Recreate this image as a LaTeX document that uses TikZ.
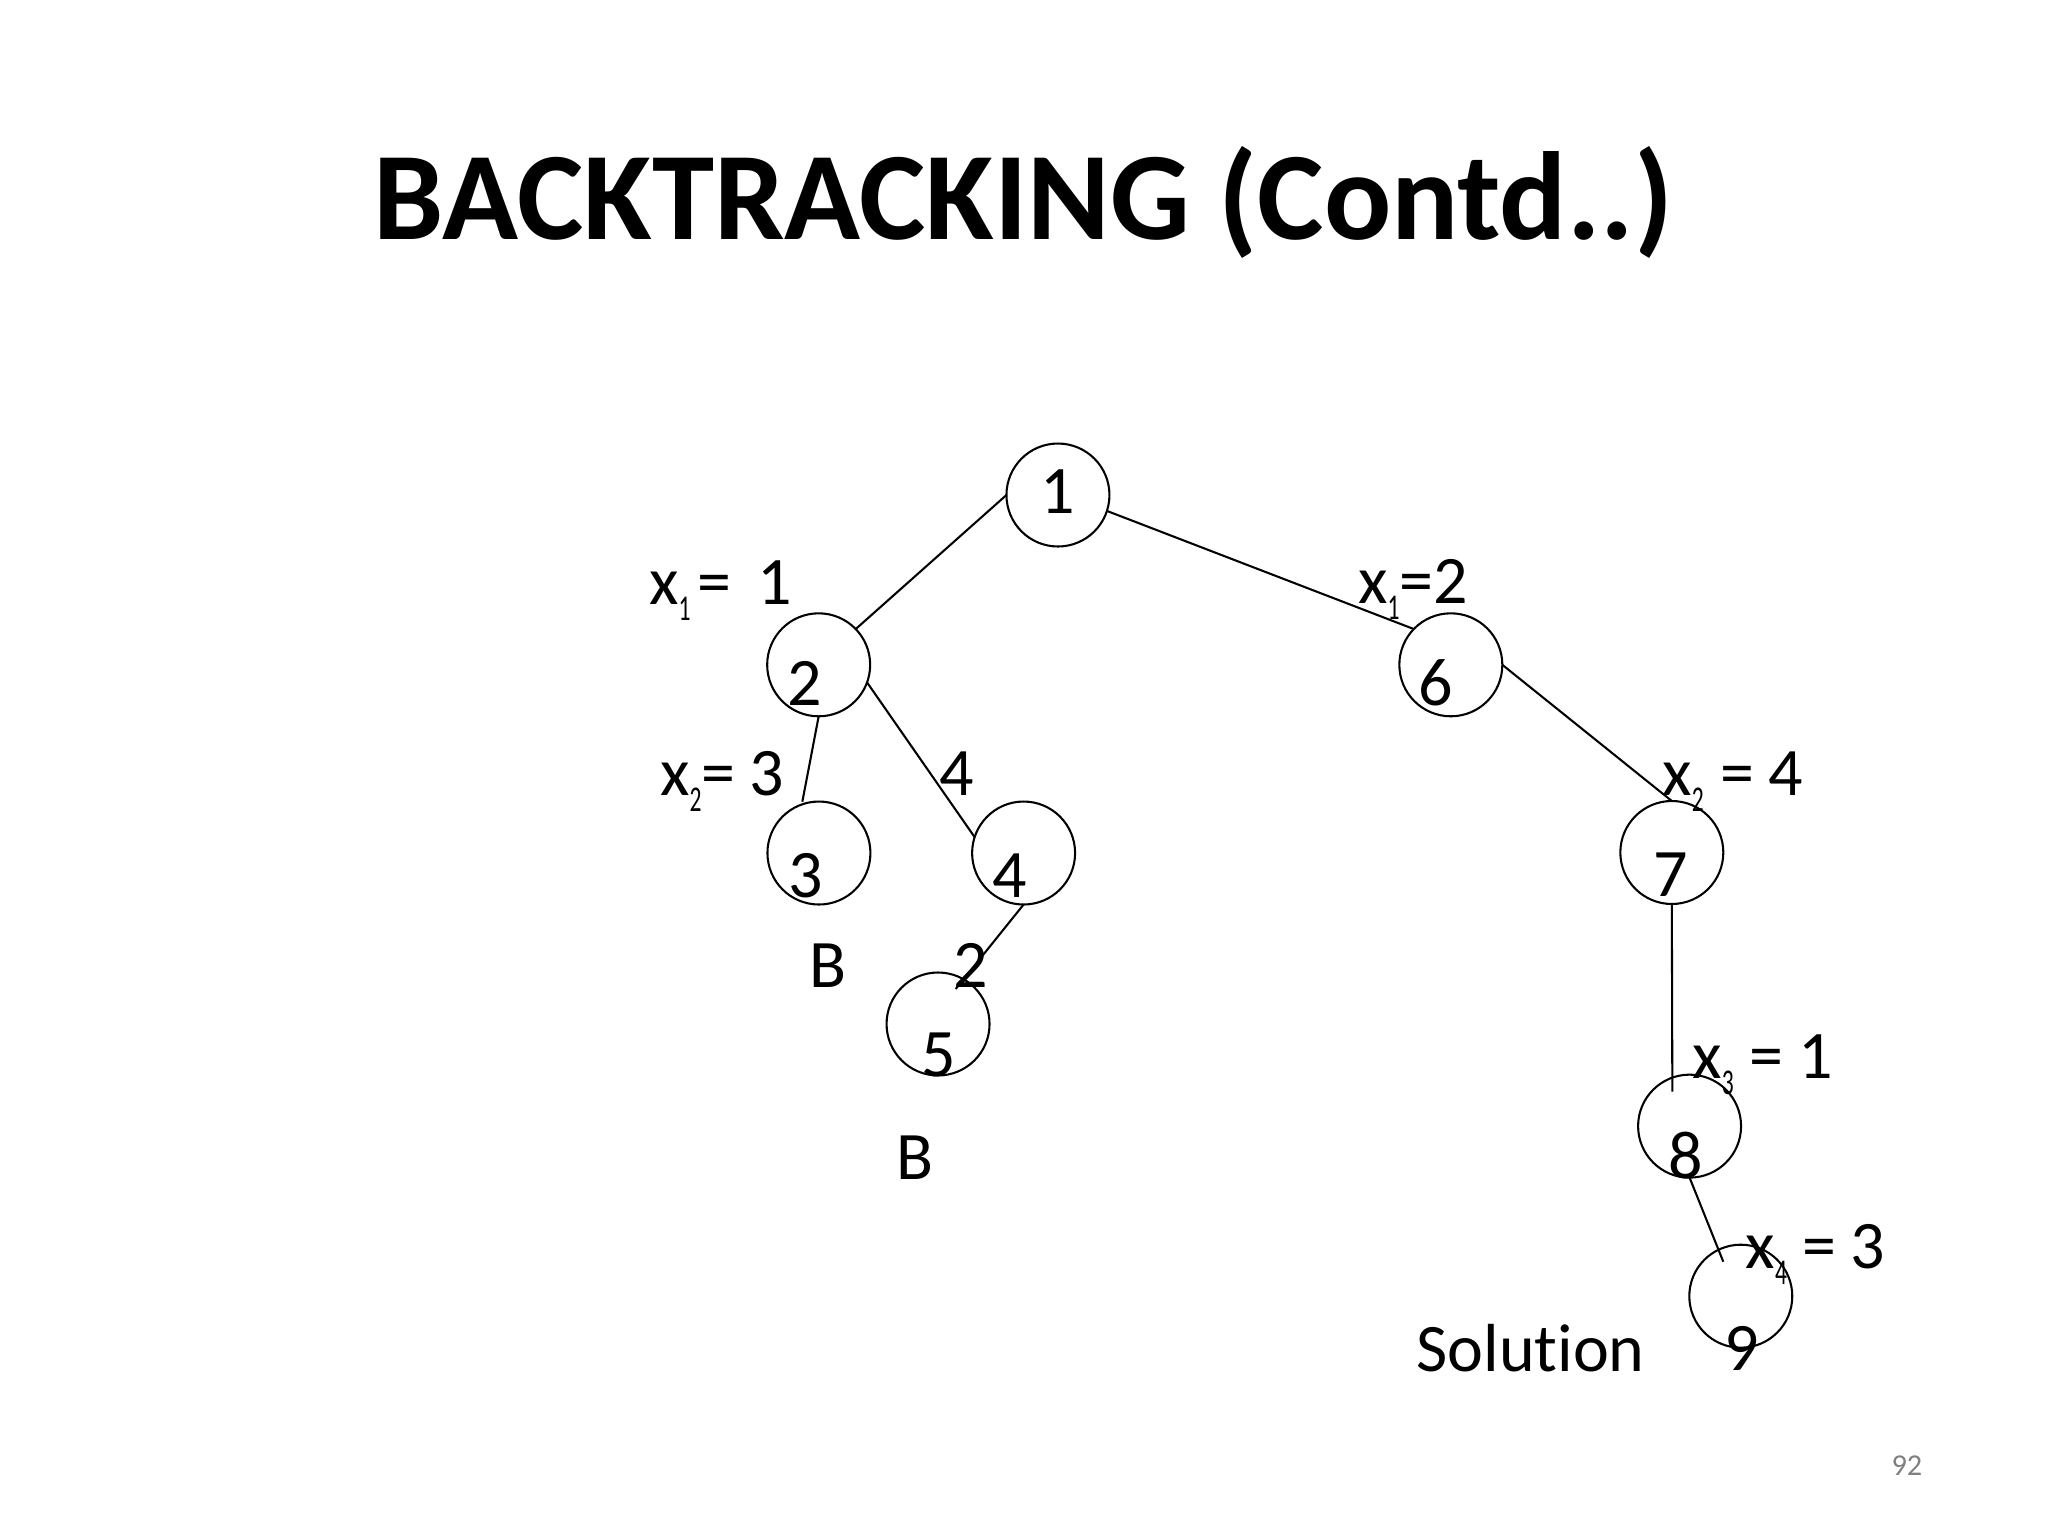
\documentclass[tikz,border=0pt]{standalone}
\usepackage{fontspec}
\setmainfont{Carlito}[Ligatures=NoCommon]
\usepackage{graphicx}
\newcommand{\sx}[1]{\raisebox{-0.125cm}{\scalebox{0.65}[1]{\fontsize{7.9pt}{8pt}\selectfont #1}}}
\begin{document}
\begin{tikzpicture}[x=0.01cm,y=-0.01cm,
  st/.style={circle,draw,line width=0.45pt,minimum size=0.788cm,inner sep=0pt,outer sep=0pt},
  lbl/.style={inner sep=0pt,outer sep=0pt,font=\fontsize{14.8pt}{16pt}\selectfont},
  conn/.style={line width=0.45pt}]
\useasboundingbox (0,0) rectangle (1568,1176);
\node[anchor=base,inner sep=0pt,font=\fontsize{27.3pt}{30pt}\selectfont\bfseries] (title) at (783.5,183) {BACKTRACKING (Contd..)};
% state circles
\node[st] (n1) at (810,379) {};
\node[st] (n2) at (626.8,509) {};
\node[st] (n6) at (1110.8,509) {};
\node[st] (n3) at (627,653.1) {};
\node[st] (n4) at (783.7,653.1) {};
\node[st] (n5) at (718.2,784) {};
\node[st] (n7) at (1280,652.7) {};
\node[st] (n8) at (1293.6,862.2) {};
\node[st] (n9) at (1332.8,992.4) {};
% numbers
\node[lbl,anchor=base] (d1) at (810,393.5) {1};
\node[lbl,anchor=base] (d2) at (616.5,540.3) {2};
\node[lbl,anchor=base] (d6) at (1099.4,540.3) {6};
\node[lbl,anchor=base] (d3) at (617,687) {3};
\node[lbl,anchor=base] (d4) at (773.3,687) {4};
\node[lbl,anchor=base] (d5) at (718.6,824.3) {5};
\node[lbl,anchor=base] (d7) at (1279,686.5) {7};
\node[lbl,anchor=base] (d8) at (1291,902.2) {8};
\node[lbl,anchor=base] (d9) at (1333.5,1049) {9};
% labels
\node[lbl,anchor=base west] (l1) at (497,462.5) {x\sx{1}\hspace{0.05cm}=\hspace{0.2cm}1};
\node[lbl,anchor=base west] (l2) at (1039.8,461.9) {x\sx{1}=2};
\node[lbl,anchor=base west] (l3) at (505.4,608.7) {x\sx{2}=\hspace{0.106cm}3};
\node[lbl,anchor=base] (l4) at (732.5,608.7) {4};
\node[lbl,anchor=base west] (l5) at (1272.8,608.7) {x\sx{2}\hspace{0.128cm}=\hspace{0.106cm}4};
\node[lbl,anchor=base west] (l6) at (1295.7,825.6) {x\sx{3}\hspace{0.124cm}=\hspace{0.113cm}1};
\node[lbl,anchor=base west] (l7) at (1336.6,971.1) {x\sx{4}\hspace{0.116cm}=\hspace{0.11cm}3};
\node[lbl,anchor=base] (b1) at (634,755.7) {B};
\node[lbl,anchor=base] (l8) at (743,755.7) {2};
\node[lbl,anchor=base] (b2) at (700.6,902.7) {B};
\node[lbl,anchor=base west] (sol) at (1084.5,1050) {Solution};
\node[inner sep=0pt,anchor=base,text={rgb,255:red,128;green,128;blue,128},font=\fontsize{6.6pt}{7pt}\selectfont] (pg) at (1460,1130) {92};
% connectors
\coordinate (e3) at (614.3,613.8);
\coordinate (e5) at (731.7,757.2);
\coordinate (e8) at (1280.4,835.8);
\coordinate (e9) at (1319.4,966);
\draw[conn] (n1.west) -- (n2.44);
\draw[conn] (n1.-18) -- (n6.136);
\draw[conn] (n2.south) -- (e3);
\draw[conn] (n2.-20) -- (n4.162);
\draw[conn] (n4.south) -- (e5);
\draw[conn] (n6.east) -- (n7.north);
\draw[conn] (n7.south) -- (e8);
\draw[conn] (n8.south) -- (e9);
\end{tikzpicture}
\end{document}
